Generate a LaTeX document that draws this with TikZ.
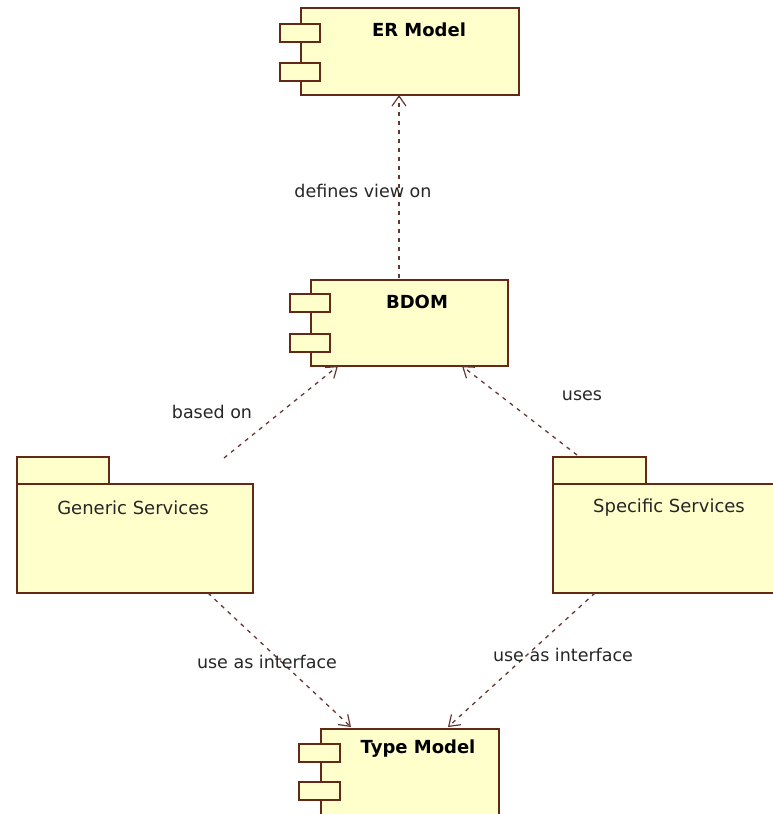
\documentclass[tikz,border=0pt]{standalone}
\usepackage{fontspec}
\setmainfont{DejaVu Sans}
\usetikzlibrary{arrows.meta}
\definecolor{boxfill}{RGB}{255,255,204}
\definecolor{boxline}{RGB}{100,40,22}
\definecolor{dep}{RGB}{100,55,50}
\begin{document}
\begin{tikzpicture}[x=1pt,y=-1pt,
  box/.style={draw=boxline,fill=boxfill,line width=2pt,inner sep=0pt,anchor=north west,rectangle},
  ttl/.style={font=\fontsize{18}{21}\selectfont\bfseries,inner sep=0pt},
  pkgtxt/.style={font=\fontsize{18}{21}\selectfont,inner sep=0pt,text=black!85},
  lbl/.style={font=\fontsize{17.5}{21}\selectfont,inner sep=0pt,text=black!85},
  depend/.style={draw=dep,line width=1.3pt,dash pattern=on 4pt off 5pt,
    -{Straight Barb[length=10pt,width=14pt,line width=1.2pt]}}]
\useasboundingbox (0,0) rectangle (772,814);
% ER Model
\node[box,minimum width=218pt,minimum height=87pt] (er) at (300,7) {};
\node[box,minimum width=40pt,minimum height=18pt] (er1) at (279,23) {};
\node[box,minimum width=40pt,minimum height=18pt] (er2) at (279,62) {};
\node[ttl] (ert) at (419,30) {ER Model};
% BDOM
\node[box,minimum width=197pt,minimum height=86pt] (bdom) at (310,279) {};
\node[box,minimum width=40pt,minimum height=18pt] (bd1) at (289,293) {};
\node[box,minimum width=40pt,minimum height=18pt] (bd2) at (289,333) {};
\node[ttl] (bdt) at (417,302) {BDOM};
% Type Model
\node[box,minimum width=178pt,minimum height=86pt] (tm) at (320,728) {};
\node[box,minimum width=41pt,minimum height=18pt] (tm1) at (298,743) {};
\node[box,minimum width=41pt,minimum height=18pt] (tm2) at (298,781) {};
\node[ttl] (tmt) at (418,749) {Type Model};
% Generic Services
\node[box,minimum width=92pt,minimum height=27pt] (gtab) at (16,456) {};
\node[box,minimum width=236pt,minimum height=109pt] (gs) at (16,483) {};
\node[pkgtxt] (gst) at (133,508) {Generic Services};
% Specific Services
\node[box,minimum width=93pt,minimum height=27pt] (stab) at (552,456) {};
\node[box,minimum width=230pt,minimum height=109pt] (ss) at (552,483) {};
\node[pkgtxt] (sst) at (669,508) {Specific Services};
% attachment points
\coordinate (bdTop) at (399,278);
\coordinate (erBot) at (399,95);
\coordinate (bdBL) at (338,366);
\coordinate (bdBR) at (462,366);
\coordinate (gsFree) at (224,458);
\coordinate (ssTop) at (577,455);
\coordinate (gsBot) at (208,593);
\coordinate (ssBot) at (595,593);
\coordinate (tmL) at (351,727);
\coordinate (tmR) at (448,727);
% dependencies
\draw[depend] (bdTop) -- (erBot);
\draw[depend] (gsFree) -- (bdBL);
\draw[depend] (ssTop) -- (bdBR);
\draw[depend] (gsBot) -- (tmL);
\draw[depend] (ssBot) -- (tmR);
% labels
\node[lbl] (l1) at (363,191) {defines view on};
\node[lbl] (l2) at (212,412) {based on};
\node[lbl] (l3) at (582,396) {uses};
\node[lbl] (l4) at (267,662) {use as interface};
\node[lbl] (l5) at (563,655) {use as interface};
\end{tikzpicture}
\end{document}
